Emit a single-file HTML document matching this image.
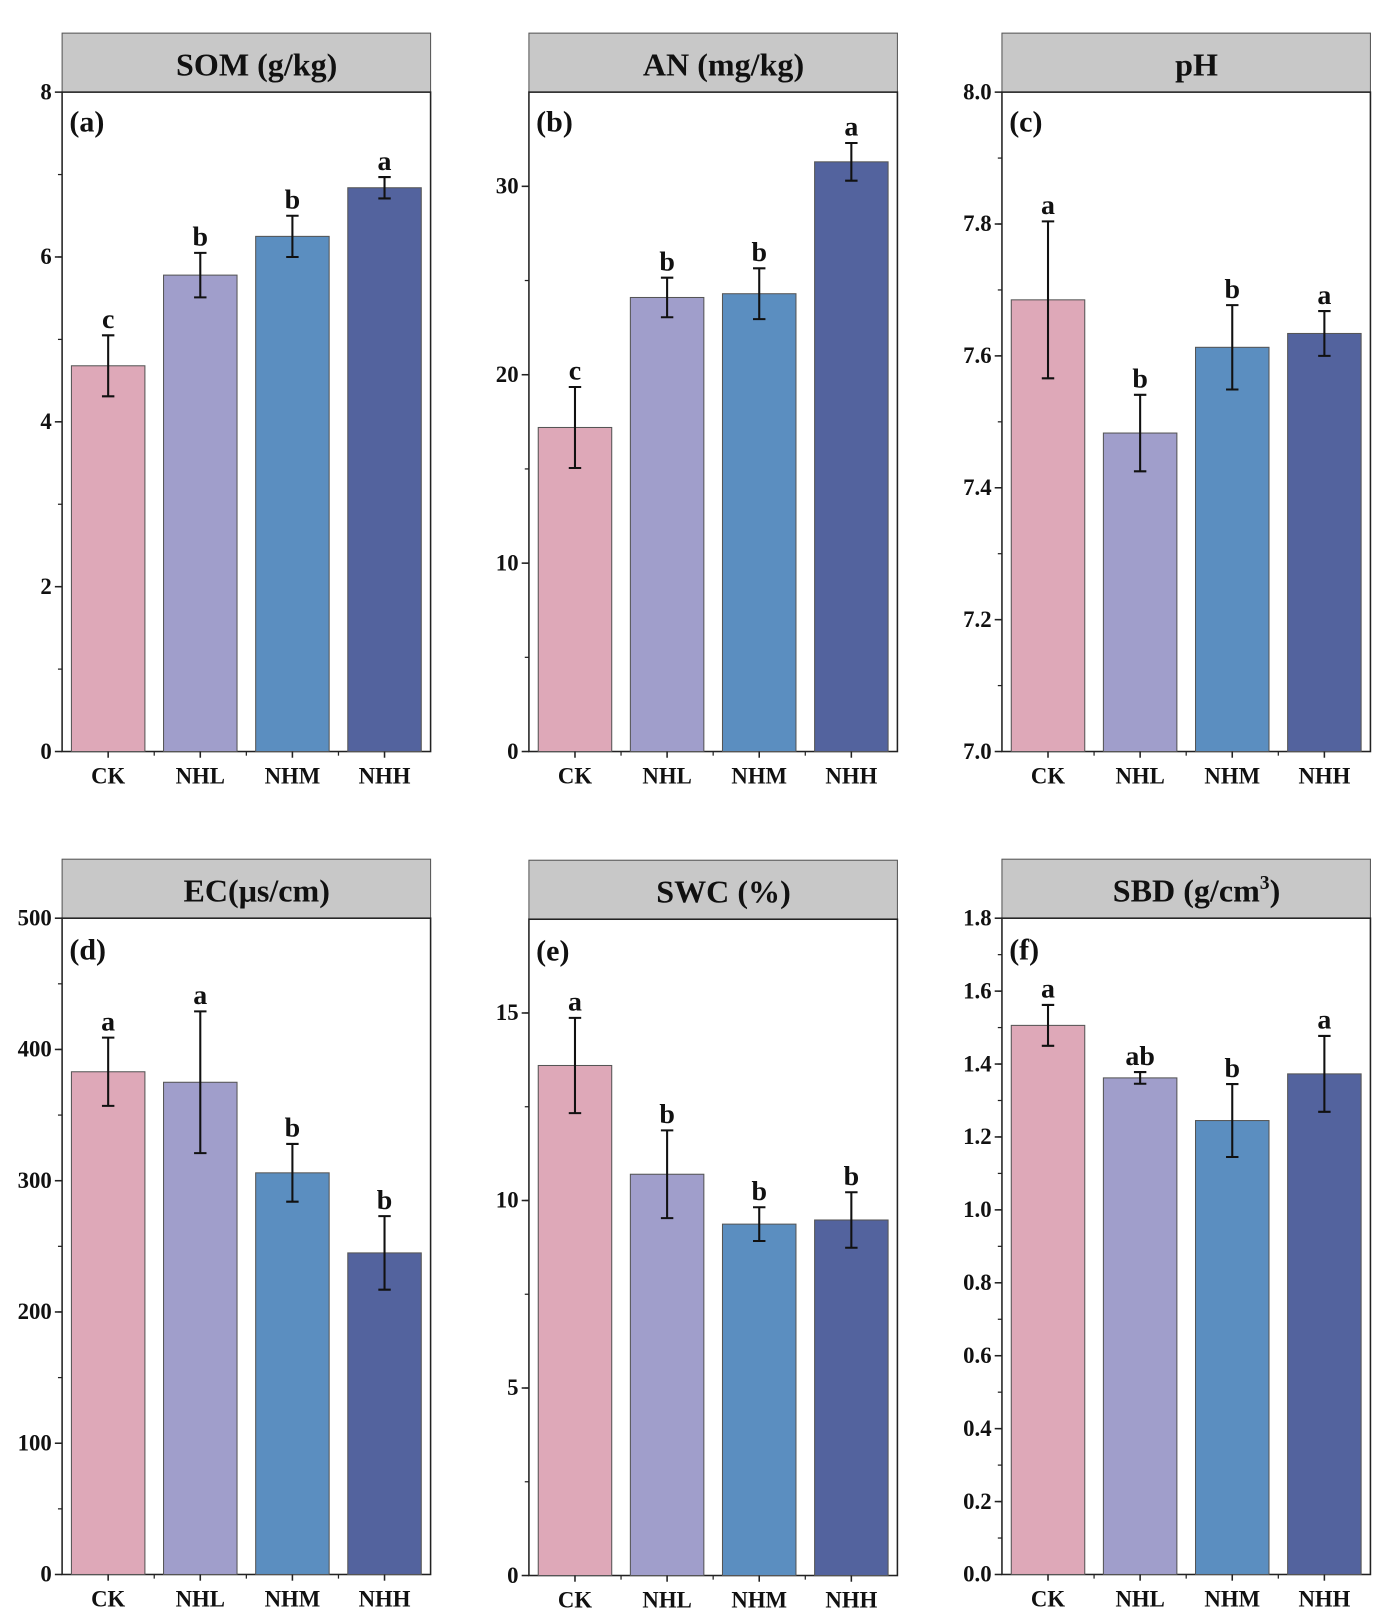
<!DOCTYPE html>
<html><head><meta charset="utf-8"><style>
html,body{margin:0;padding:0;background:#fff;}
svg{display:block;font-family:"Liberation Serif",serif;font-weight:bold;}
</style></head><body>
<svg id="fig" width="1387" height="1619" viewBox="0 0 1340 1564" preserveAspectRatio="none" xmlns="http://www.w3.org/2000/svg"></svg>
<script>
const categories = ["CK","NHL","NHM","NHH"];
const somValues = [4.68, 5.78, 6.25, 6.84];
const somErrors = [0.37, 0.27, 0.25, 0.13];
const somLetters = ["c","b","b","a"];
const anValues = [17.2, 24.1, 24.3, 31.3];
const anErrors = [2.15, 1.05, 1.35, 1.0];
const anLetters = ["c","b","b","a"];
const phValues = [7.685, 7.483, 7.613, 7.634];
const phErrors = [0.119, 0.058, 0.064, 0.034];
const phLetters = ["a","b","b","a"];
const ecValues = [383, 375, 306, 245];
const ecErrors = [26, 54, 22, 28];
const ecLetters = ["a","a","b","b"];
const swcValues = [13.6, 10.7, 9.37, 9.48];
const swcErrors = [1.27, 1.17, 0.45, 0.74];
const swcLetters = ["a","b","b","b"];
const sbdValues = [1.506, 1.362, 1.245, 1.373];
const sbdErrors = [0.056, 0.016, 0.1, 0.104];
const sbdLetters = ["a","ab","b","a"];
const somTicks = [0,2,4,6,8];
const anTicks = [0,10,20,30];
const phTicks = ["7.0","7.2","7.4","7.6","7.8","8.0"];
const ecTicks = [0,100,200,300,400,500];
const swcTicks = [0,5,10,15];
const sbdTicks = ["0.0","0.2","0.4","0.6","0.8","1.0","1.2","1.4","1.6","1.8"];

const colors = ["#dea8b8","#a09ecb","#5b8ec0","#53639e"];
const NS = "http://www.w3.org/2000/svg";
const svg = document.getElementById("fig");
function mk(tag, attrs, parent){const e=document.createElementNS(NS,tag);for(const k in attrs)e.setAttribute(k,attrs[k]);(parent||svg).appendChild(e);return e;}

function panel(o){
  const g = mk("g",{});
  
  
  const x0=o.x, yTop=o.y, yBot=o.y+(o.row?634:637), hTop=yTop-57;
  const ys = v => yBot - (v-o.min)/(o.max-o.min)*(yBot-yTop);
  const hdr = mk("rect",{x:x0,y:hTop,width:356,height:57,fill:"#c8c8c8",stroke:"#555","stroke-width":1},g);
  
  
  const tt = mk("text",{x:x0+188,y:hTop+41,"font-size":31,"text-anchor":"middle",fill:"#111"},g);
  
  
  tt.innerHTML = o.title;
  mk("rect",{x:x0,y:yTop,width:356,height:yBot-yTop,fill:"#fff",stroke:"#222","stroke-width":1.5},g);
  const slot = 356/4;
  o.values.forEach((v,i)=>{
    const cx = x0 + slot*(i+0.5);
    const b = mk("rect",{x:cx-35.5,y:ys(v),width:71,height:yBot-ys(v),fill:colors[i],stroke:"#555","stroke-width":1},g);
    
    
    const eT=ys(v+o.errors[i]), eB=ys(v-o.errors[i]);
    const eb = mk("path",{d:`M${cx},${eT}V${eB}M${cx-6},${eT}H${cx+6}M${cx-6},${eB}H${cx+6}`,stroke:"#111","stroke-width":2,fill:"none"},g);
    
    
    const lt = mk("text",{x:cx,y:eT-7,"font-size":27,"text-anchor":"middle",fill:"#111"},g);
    
    
    lt.textContent = o.letters[i];
    const xl = mk("text",{x:cx,y:yBot+31,"font-size":22,"text-anchor":"middle",fill:"#111"},g);
    
    
    xl.textContent = categories[i];
    mk("line",{x1:cx,x2:cx,y1:yBot,y2:yBot+6,stroke:"#222","stroke-width":1.5},g);
    if(i>0) mk("line",{x1:x0+slot*i,x2:x0+slot*i,y1:yBot,y2:yBot+4,stroke:"#222","stroke-width":1.2},g);
  });
  o.ticks.forEach((t,i)=>{
    const v=parseFloat(t), y=ys(v);
    mk("line",{x1:x0-7,x2:x0,y1:y,y2:y,stroke:"#222","stroke-width":1.5},g);
    const tl = mk("text",{x:x0-10,y:y+7,"font-size":22,"text-anchor":"end",fill:"#111"},g);
    
    
    tl.textContent = t;
  });
  for(let v=o.min+o.minor; v<o.max-1e-9; v+=o.minor){
    mk("line",{x1:x0-4,x2:x0,y1:ys(v),y2:ys(v),stroke:"#222","stroke-width":1.2},g);
  }
  const pl = mk("text",{x:x0+7,y:yTop+(o.row?40:38),"font-size":29,fill:"#111"},g);
  
  
  pl.textContent = o.label;
}
panel({id:"som",x:60,y:89,row:0,title:"SOM (g/kg)",label:"(a)",min:0,max:8,minor:1,ticks:somTicks,values:somValues,errors:somErrors,letters:somLetters});
panel({id:"an",x:511,y:89,row:0,title:"AN (mg/kg)",label:"(b)",min:0,max:35,minor:5,ticks:anTicks,values:anValues,errors:anErrors,letters:anLetters});
panel({id:"ph",x:968,y:89,row:0,title:"pH",label:"(c)",min:7.0,max:8.0,minor:0.1,ticks:phTicks,values:phValues,errors:phErrors,letters:phLetters});
panel({id:"ec",x:60,y:887,row:1,title:"EC(μs/cm)",label:"(d)",min:0,max:500,minor:50,ticks:ecTicks,values:ecValues,errors:ecErrors,letters:ecLetters});
panel({id:"swc",x:511,y:888,row:1,title:"SWC (%)",label:"(e)",min:0,max:17.5,minor:2.5,ticks:swcTicks,values:swcValues,errors:swcErrors,letters:swcLetters});
panel({id:"sbd",x:968,y:887,row:1,title:"SBD (g/cm<tspan dy='-12' font-size='19'>3</tspan><tspan dy='12'>)</tspan>",label:"(f)",min:0,max:1.8,minor:0.1,ticks:sbdTicks,values:sbdValues,errors:sbdErrors,letters:sbdLetters});
</script>
</body></html>
